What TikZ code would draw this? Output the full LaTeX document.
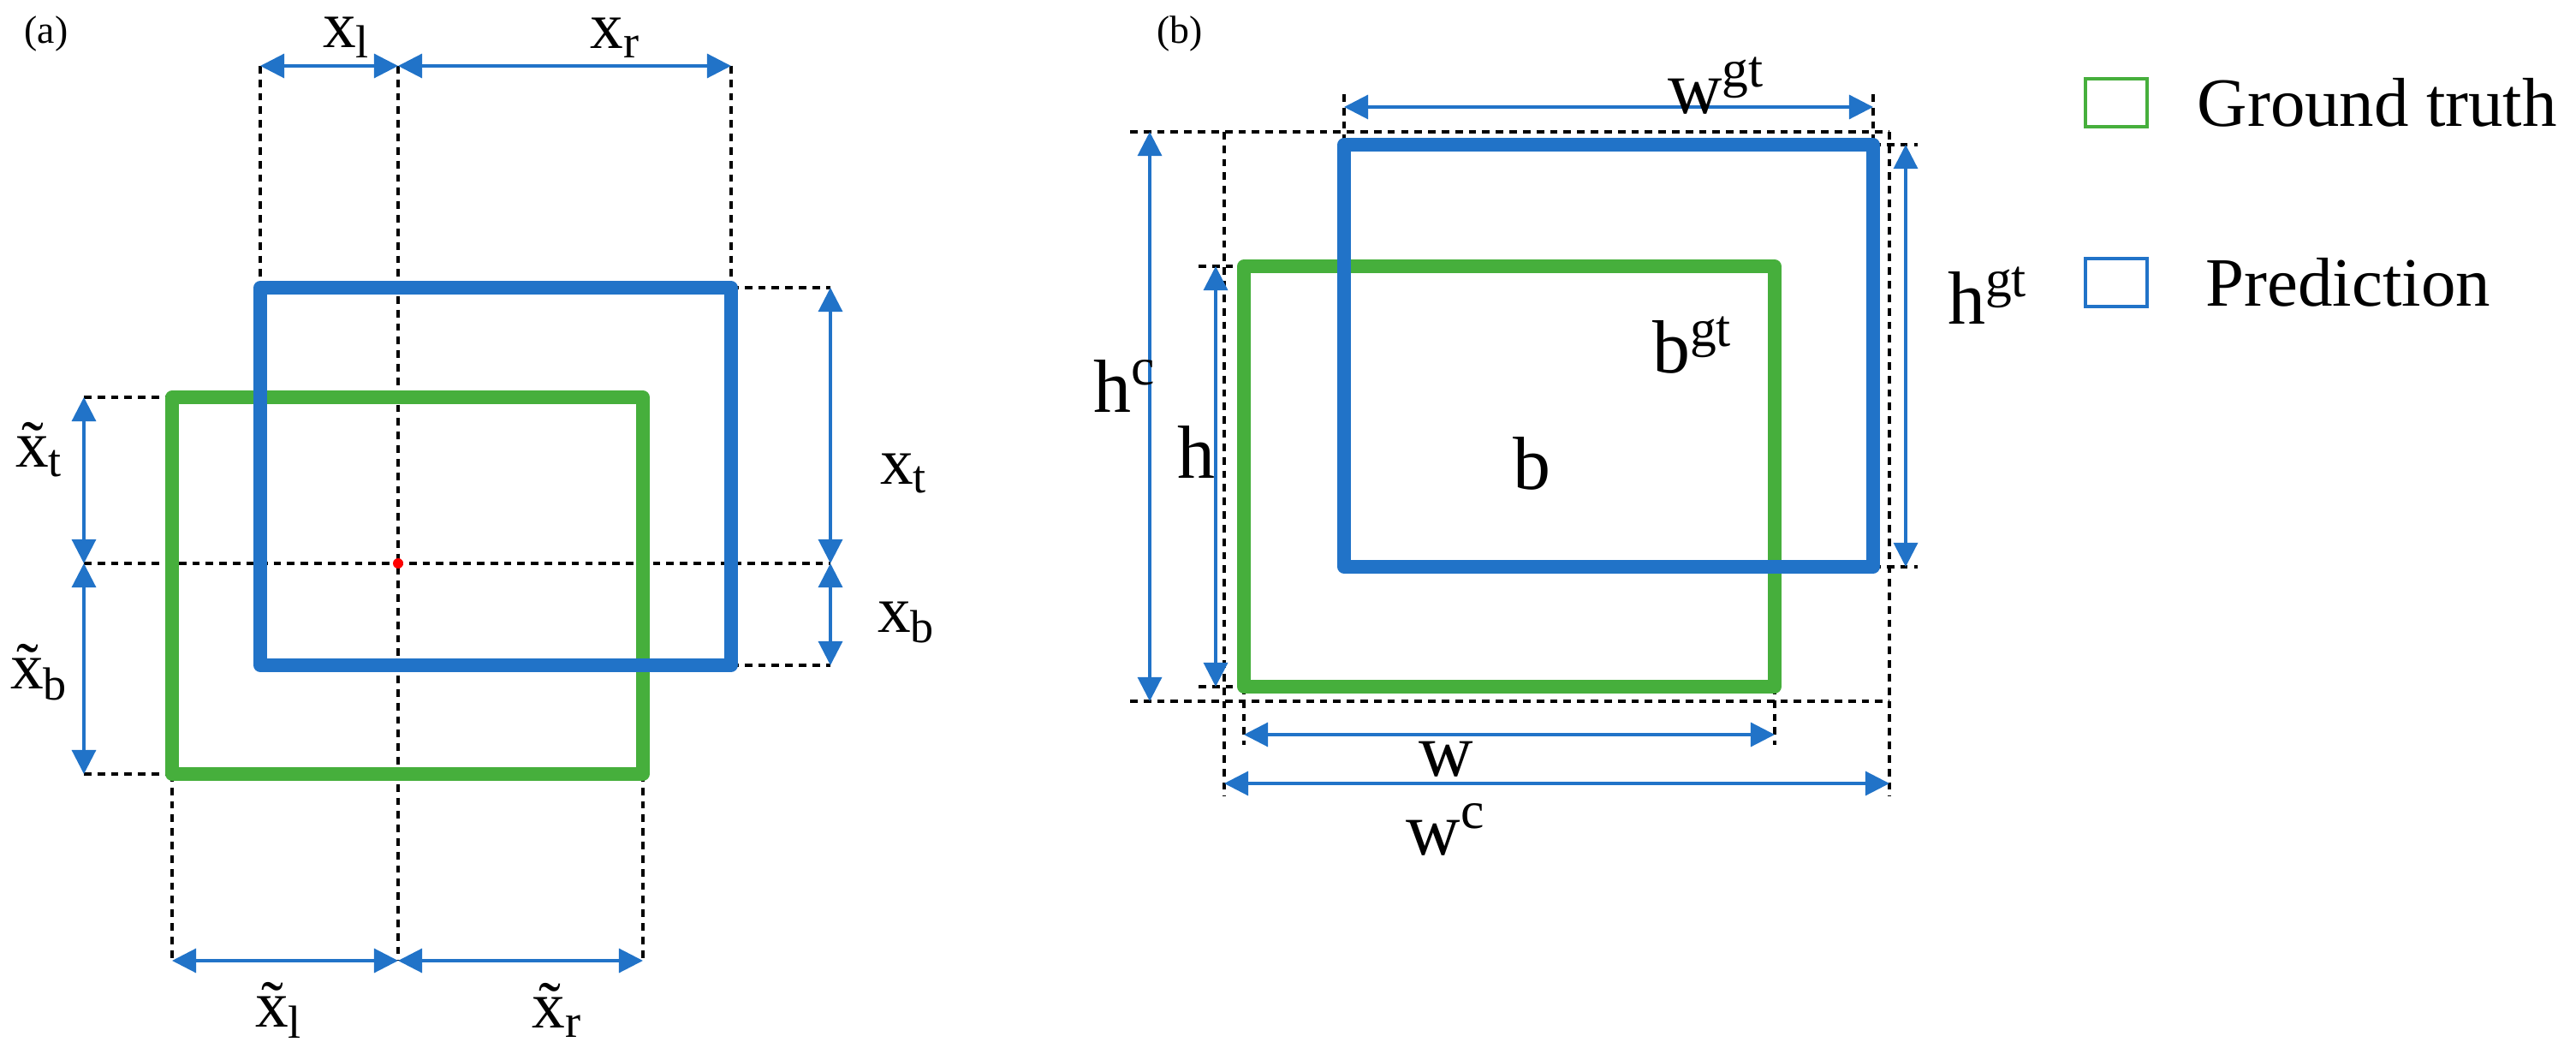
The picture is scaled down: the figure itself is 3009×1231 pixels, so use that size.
\documentclass[tikz,border=0pt]{standalone}
\usepackage{fontspec}
\setmainfont{Liberation Serif}
\usetikzlibrary{arrows.meta}
\definecolor{bblue}{RGB}{33,115,200}
\definecolor{ggreen}{RGB}{70,175,60}
\begin{document}
\begin{tikzpicture}[x=0.01cm,y=-0.01cm,
  pred/.style={draw=bblue,line width=4.4pt,line join=round,line cap=round},
  gt/.style={draw=ggreen,line width=4.4pt,line join=round,line cap=round},
  guide/.style={draw=black,line width=0.9pt,dash pattern=on 2.5pt off 2pt},
  dim/.style={draw=bblue,line width=0.9pt,{Triangle[length=8pt,width=8pt]}-{Triangle[length=8pt,width=8pt]}},
  lab/.style={font=\fontsize{22}{24}\selectfont,inner sep=0pt},
  blab/.style={font=\fontsize{25}{27}\selectfont,inner sep=0pt},
  tag/.style={font=\fontsize{13}{15}\selectfont,inner sep=0pt}]
\useasboundingbox (0,0) rectangle (3009,1231);
% ---------- panel (a)
\node[tag] (ta) at (54,40) {(a)};
\coordinate (c) at (465,658);
\draw[guide] (304,77) -- (304,336);
\draw[guide] (854,77) -- (854,336);
\draw[guide] (465,77) -- (465,1122);
\draw[guide] (98,658) -- (970,658);
\draw[guide] (98,464) -- (201,464);
\draw[guide] (98,904) -- (201,904);
\draw[guide] (854,336) -- (970,336);
\draw[guide] (854,777) -- (970,777);
\draw[guide] (201,904) -- (201,1122);
\draw[guide] (751,904) -- (751,1122);
\draw[gt] (201,464) rectangle (751,904);
\draw[pred] (304,336) rectangle (854,777);
\fill[red] (c) circle (6);
\coordinate (tl) at (304,77); \coordinate (tc) at (465,77); \coordinate (tr) at (854,77);
\draw[dim] (tl) -- (tc); \draw[dim] (tc) -- (tr);
\coordinate (bl) at (201,1122); \coordinate (bc) at (465,1122); \coordinate (br) at (751,1122);
\draw[dim] (bl) -- (bc); \draw[dim] (bc) -- (br);
\coordinate (lt) at (98,464); \coordinate (lc) at (98,658); \coordinate (lb) at (98,904);
\draw[dim] (lt) -- (lc); \draw[dim] (lc) -- (lb);
\coordinate (rt) at (970,336); \coordinate (rc) at (970,658); \coordinate (rb) at (970,777);
\draw[dim] (rt) -- (rc); \draw[dim] (rc) -- (rb);
\node[lab] (xl) at (405,44) {x\textsubscript{l}};
\node[lab] (xr) at (719,44) {x\textsubscript{r}};
\node[lab] (xt) at (1056,553) {x\textsubscript{t}};
\node[lab] (xb) at (1059,727) {x\textsubscript{b}};
\node[lab] (xtt) at (46,525) {\~{x}\textsubscript{t}};
\node[lab] (xtb) at (46,785) {\~{x}\textsubscript{b}};
\node[lab] (xtl) at (326,1180) {\~{x}\textsubscript{l}};
\node[lab] (xtr) at (651,1180) {\~{x}\textsubscript{r}};
% ---------- panel (b)
\node[tag] (tb) at (1378,40) {(b)};
\draw[guide] (1320,154) -- (2207,154);
\draw[guide] (1320,819) -- (2207,819);
\draw[guide] (1430,154) -- (1430,930);
\draw[guide] (2207,154) -- (2207,930);
\draw[guide] (1570,110) -- (1570,169);
\draw[guide] (2188,110) -- (2188,169);
\draw[guide] (1400,311) -- (1453,311);
\draw[guide] (1400,802) -- (1453,802);
\draw[guide] (2188,169) -- (2240,169);
\draw[guide] (2188,662) -- (2240,662);
\draw[guide] (1453,802) -- (1453,870);
\draw[guide] (2073,802) -- (2073,870);
\draw[gt] (1453,311) rectangle (2073,802);
\draw[pred] (1570,169) rectangle (2188,662);
\coordinate (wg1) at (1570,125); \coordinate (wg2) at (2188,125);
\draw[dim] (wg1) -- (wg2);
\coordinate (hc1) at (1343,154); \coordinate (hc2) at (1343,819);
\draw[dim] (hc1) -- (hc2);
\coordinate (h1) at (1420,311); \coordinate (h2) at (1420,802);
\draw[dim] (h1) -- (h2);
\coordinate (hg1) at (2226,169); \coordinate (hg2) at (2226,662);
\draw[dim] (hg1) -- (hg2);
\coordinate (w1) at (1453,858); \coordinate (w2) at (2073,858);
\draw[dim] (w1) -- (w2);
\coordinate (wc1) at (1430,915); \coordinate (wc2) at (2207,915);
\draw[dim] (wc1) -- (wc2);
\node[blab] (lwg) at (2005,100) {w\textsuperscript{gt}};
\node[blab] (lhc) at (1314,451) {h\textsuperscript{c}};
\node[blab] (lh) at (1397,528) {h};
\node[blab] (lhg) at (2322,345) {h\textsuperscript{gt}};
\node[blab] (lw) at (1689,887) {w};
\node[blab] (lwc) at (1689,969) {w\textsuperscript{c}};
\node[blab] (lbg) at (1977,403) {b\textsuperscript{gt}};
\node[blab] (lb) at (1789,541) {b};
\draw[ggreen,line width=1.2pt] (2436,92) rectangle (2508,148) coordinate (lg);
\draw[bblue,line width=1.2pt] (2436,302) rectangle (2508,358) coordinate (lp);
\node[anchor=west,font=\fontsize{23}{25}\selectfont,inner sep=0pt] (tgt) at (2566,120) {Ground truth};
\node[anchor=west,font=\fontsize{23}{25}\selectfont,inner sep=0pt] (tpr) at (2576,330) {Prediction};
\end{tikzpicture}
\end{document}
